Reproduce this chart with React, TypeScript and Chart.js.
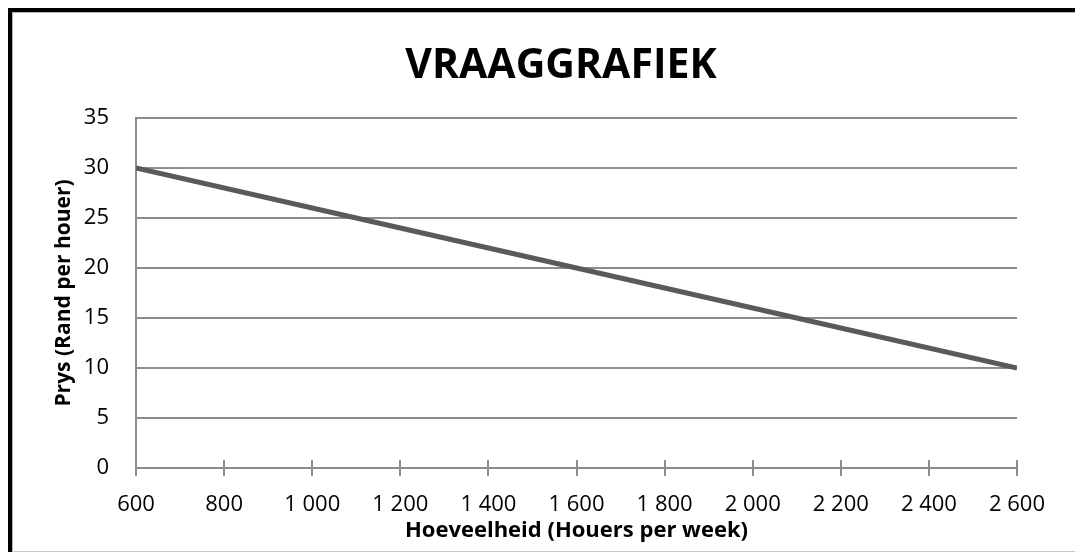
import React, { useEffect, useRef } from "react";
import { Chart, registerables } from "chart.js";

Chart.register(...registerables);

const chartTitle = "VRAAGGRAFIEK";
const xAxisTitle = "Hoeveelheid (Houers per week)";
const yAxisTitle = "Prys (Rand per houer)";
const quantities = [600, 1100, 1600, 2100, 2600];
const prices = [30, 25, 20, 15, 10];
const xMin = 600;
const xMax = 2600;
const xStep = 200;
const yMin = 0;
const yMax = 35;
const yStep = 5;

const FONT = "'Open Sans', Lato, sans-serif";
const GRID = "#8c8c8c";

const fmt = (v: number) => {
  const s = Math.round(v).toString();
  return s.replace(/\B(?=(\d{3})+(?!\d))/g, " ");
};

const framePlugin = {
  id: "frame",
  beforeDraw(chart: any) {
    const { ctx, width, height } = chart;
    ctx.save();
    ctx.fillStyle = "#ffffff";
    ctx.fillRect(0, 0, width, height);
    ctx.fillStyle = "#000000";
    ctx.fillRect(8, 8, 4, height - 8);
    ctx.fillRect(8, 8, width - 8, 4);
    ctx.fillStyle = "#b4b4b4";
    ctx.fillRect(12, 12, 1, height - 12);
    ctx.fillRect(12, 12, width - 12, 1);
    ctx.fillStyle = "#c8c8c8";
    ctx.fillRect(12, height - 1, width - 12, 1);
    ctx.restore();
  },
};

const decorPlugin = {
  id: "decor",
  afterDraw(chart: any) {
    const { ctx, chartArea } = chart;
    const xs = chart.scales.x;
    ctx.save();
    ctx.strokeStyle = GRID;
    ctx.lineWidth = 2;
    xs.ticks.forEach((t: any) => {
      const px = Math.round(xs.getPixelForValue(t.value));
      ctx.beginPath();
      ctx.moveTo(px, chartArea.bottom - 8);
      ctx.lineTo(px, chartArea.bottom);
      ctx.stroke();
    });
    ctx.fillStyle = "#000";
    ctx.font = `bold 41px ${FONT}`;
    ctx.textAlign = "center";
    ctx.textBaseline = "middle";
    ctx.fillText(chartTitle, 561, 66);
    ctx.restore();
  },
};

export default function App() {
  const ref = useRef<HTMLCanvasElement | null>(null);
  useEffect(() => {
    if (!ref.current) return;
    const chart = new Chart(ref.current, {
      type: "line",
      data: {
        datasets: [
          {
            data: quantities.map((q, i) => ({ x: q, y: prices[i] })),
            borderColor: "#5a5a5a",
            borderWidth: 5,
            pointRadius: 0,
            fill: false,
            tension: 0,
          },
        ],
      },
      options: {
        responsive: false,
        animation: false,
        devicePixelRatio: 1,
        layout: { padding: { left: 12, right: 58, top: 118, bottom: 0 } },
        plugins: { legend: { display: false }, tooltip: { enabled: false }, title: { display: false } },
        scales: {
          x: {
            type: "linear",
            min: xMin,
            max: xMax,
            afterFit: (s: any) => {
              s.height = 84;
            },
            ticks: {
              stepSize: xStep,
              color: "#000",
              font: { family: FONT, size: 22 },
              padding: 16,
              maxRotation: 0,
              callback: (v: any) => fmt(Number(v)),
            },
            grid: { drawOnChartArea: false, drawTicks: true, tickLength: 8, color: GRID, lineWidth: 2 },
            border: { color: GRID, width: 2 },
            title: {
              display: true,
              text: xAxisTitle,
              color: "#000",
              font: { family: FONT, size: 22, weight: "bold" },
              padding: { top: 0, bottom: 8 },
            },
          },
          y: {
            min: yMin,
            max: yMax,
            afterFit: (s: any) => {
              s.width = 124;
            },
            ticks: {
              stepSize: yStep,
              color: "#000",
              font: { family: FONT, size: 22 },
              padding: 27,
            },
            grid: { drawTicks: false, color: GRID, lineWidth: 2 },
            border: { color: GRID, width: 2 },
            title: {
              display: true,
              text: yAxisTitle,
              color: "#000",
              font: { family: FONT, size: 21, weight: "bold" },
              padding: { top: 39, bottom: 0 },
            },
          },
        },
      },
      plugins: [framePlugin, decorPlugin],
    });
    return () => chart.destroy();
  }, []);
  return (
    <div style={{ position: "fixed", left: 0, top: 0, width: 1075, height: 552, overflow: "hidden", background: "#fff" }}>
      <canvas ref={ref} width={1075} height={552} style={{ display: "block", width: 1075, height: 552 }} />
    </div>
  );
}
